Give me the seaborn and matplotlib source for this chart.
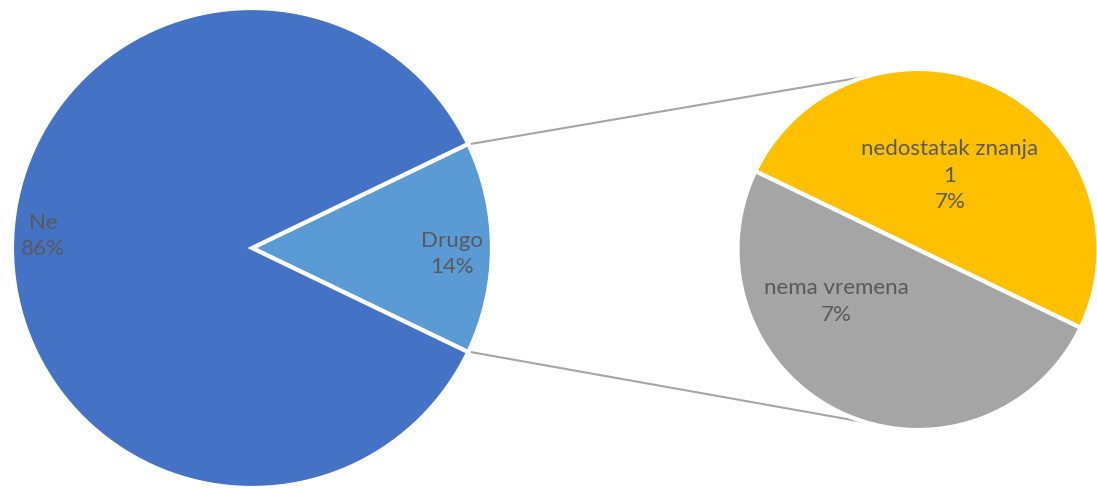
import numpy as np
import seaborn as sns
import matplotlib.pyplot as plt

# data
main_labels = ["Drugo", "Ne"]
ne_count = 12
sub_labels = ["nedostatak znanja", "nema vremena"]
sub_counts = [1, 1]
total = ne_count + sum(sub_counts)

sns.set_style("white")
plt.rcParams['font.family'] = ['Lato', 'DejaVu Sans']

main_colors = ["#5B9BD5", "#4472C4"]
sub_colors = ["#FFC000", "#A5A5A5"]
txt_color = "#595959"

fig = plt.figure(figsize=(10.97, 4.88), dpi=100)
ax = fig.add_axes([0, 0, 1, 1])

c1, r1 = (252, 240), 240
c2, r2 = (918, 238.5), 180.5
half = 180 * sum(sub_counts) / total

main_vals = [sum(sub_counts), ne_count]
ax.pie(main_vals, colors=main_colors, startangle=-half, counterclock=True,
       center=c1, radius=r1,
       wedgeprops=dict(edgecolor="white", linewidth=3))
ax.pie(sub_counts, colors=sub_colors, startangle=-half, counterclock=True,
       center=c2, radius=r2,
       wedgeprops=dict(edgecolor="white", linewidth=3))

# connector lines
for sgn in (1, -1):
    a1 = np.deg2rad(sgn * half)
    a2 = np.deg2rad(sgn * 106.5)
    x0, y0 = c1[0] + r1 * np.cos(a1), c1[1] + r1 * np.sin(a1)
    x1, y1 = c2[0] + r2 * np.cos(a2), c2[1] + r2 * np.sin(a2)
    ax.plot([x0 + 3, x1], [y0, y1], color="#A5A5A5", lw=1.5, zorder=0)

pct = lambda v: f"{round(100 * v / total)}%"
fs = 16
kw = dict(ha="center", va="center", color=txt_color, fontsize=fs, linespacing=1.4)
ax.text(c1[0] - 209, c1[1] + 12, f"Ne\n{pct(ne_count)}", **kw)
ax.text(c1[0] + 200, c1[1] - 6, f"Drugo\n{pct(sum(sub_counts))}", **kw)
ax.text(c2[0] + 32, c2[1] + 74, f"{sub_labels[0]}\n{sub_counts[0]}\n{pct(sub_counts[0])}", **kw)
ax.text(c2[0] - 82, c2[1] - 52, f"{sub_labels[1]}\n{pct(sub_counts[1])}", **kw)

ax.set_xlim(0, 1097)
ax.set_ylim(0, 488)
ax.set_aspect("equal")
ax.axis("off")

fig.savefig("out.png", dpi=100)
